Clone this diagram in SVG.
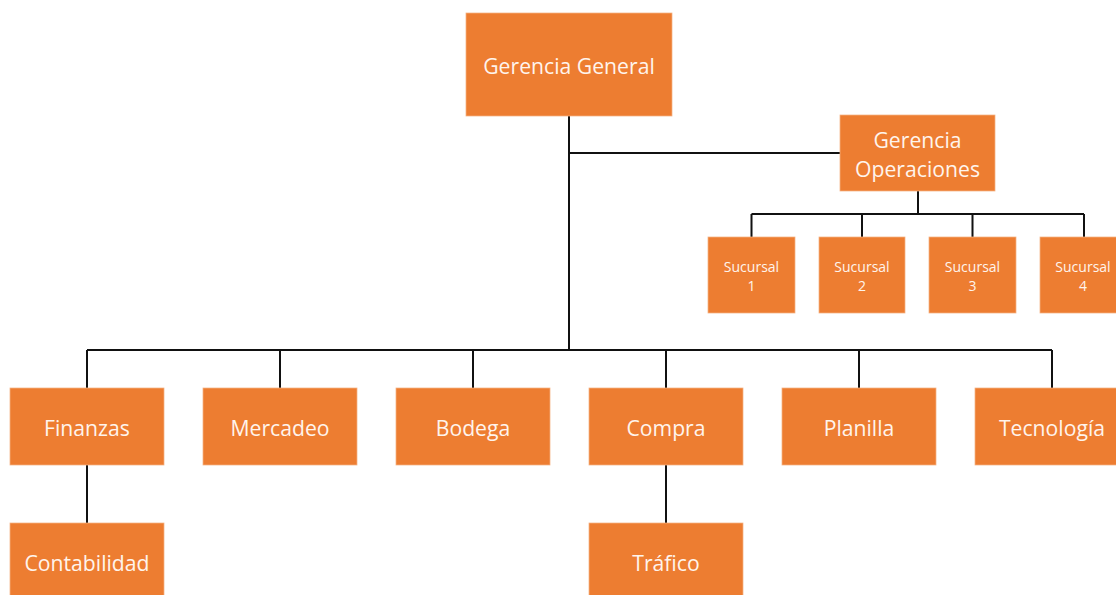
<svg xmlns="http://www.w3.org/2000/svg" width="1116" height="595" viewBox="0 0 1116 595">
<style>
.box{fill:#ED7D31;stroke:#F4B183;stroke-width:0.75}
.t{font-family:"Open Sans","Noto Sans",sans-serif;fill:#FFF4EC;text-anchor:middle;dominant-baseline:central}
.big{font-size:21.2px}
.sm{font-size:14px}
.ln{stroke:#111;stroke-width:2;fill:none}
</style>
<rect width="1116" height="595" fill="#fff"/>
<g id="connectors">
<path class="ln" d="M569 116V350M569 153H841M918 191V214M751.5 214H1084M751.5 214V237M862 214V237M972.5 214V237M1084 214V237M87 350H1052M87 350V388M280 350V388M473 350V388M666 350V388M859 350V388M1052 350V388M87 465V523M666 465V523"/>
</g>
<g id="gerencia-general"><rect class="box" x="466" y="13" width="206" height="103"/><text class="t big" x="569" y="65">Gerencia General</text></g>
<g id="gerencia-operaciones"><rect class="box" x="840" y="115" width="155" height="76"/><text class="t big" x="917.5" y="139">Gerencia</text><text class="t big" x="917.5" y="168">Operaciones</text></g>
<g id="sucursal-1"><rect class="box" x="708" y="237" width="87" height="76"/><text class="t sm" x="751.5" y="266">Sucursal</text><text class="t sm" x="751.5" y="285">1</text></g>
<g id="sucursal-2"><rect class="box" x="819" y="237" width="86" height="76"/><text class="t sm" x="862" y="266">Sucursal</text><text class="t sm" x="862" y="285">2</text></g>
<g id="sucursal-3"><rect class="box" x="929" y="237" width="87" height="76"/><text class="t sm" x="972.5" y="266">Sucursal</text><text class="t sm" x="972.5" y="285">3</text></g>
<g id="sucursal-4"><rect class="box" x="1040" y="237" width="87" height="76"/><text class="t sm" x="1083" y="266">Sucursal</text><text class="t sm" x="1083" y="285">4</text></g>
<g id="finanzas"><rect class="box" x="10" y="388" width="154" height="77"/><text class="t big" x="87" y="427">Finanzas</text></g>
<g id="mercadeo"><rect class="box" x="203" y="388" width="154" height="77"/><text class="t big" x="280" y="427">Mercadeo</text></g>
<g id="bodega"><rect class="box" x="396" y="388" width="154" height="77"/><text class="t big" x="473" y="427">Bodega</text></g>
<g id="compra"><rect class="box" x="589" y="388" width="154" height="77"/><text class="t big" x="666" y="427">Compra</text></g>
<g id="planilla"><rect class="box" x="782" y="388" width="154" height="77"/><text class="t big" x="859" y="427">Planilla</text></g>
<g id="tecnologia"><rect class="box" x="975" y="388" width="154" height="77"/><text class="t big" x="1052" y="427">Tecnología</text></g>
<g id="contabilidad"><rect class="box" x="10" y="523" width="154" height="80"/><text class="t big" x="87" y="562">Contabilidad</text></g>
<g id="trafico"><rect class="box" x="589" y="523" width="154" height="80"/><text class="t big" x="666" y="562">Tráfico</text></g>
</svg>
